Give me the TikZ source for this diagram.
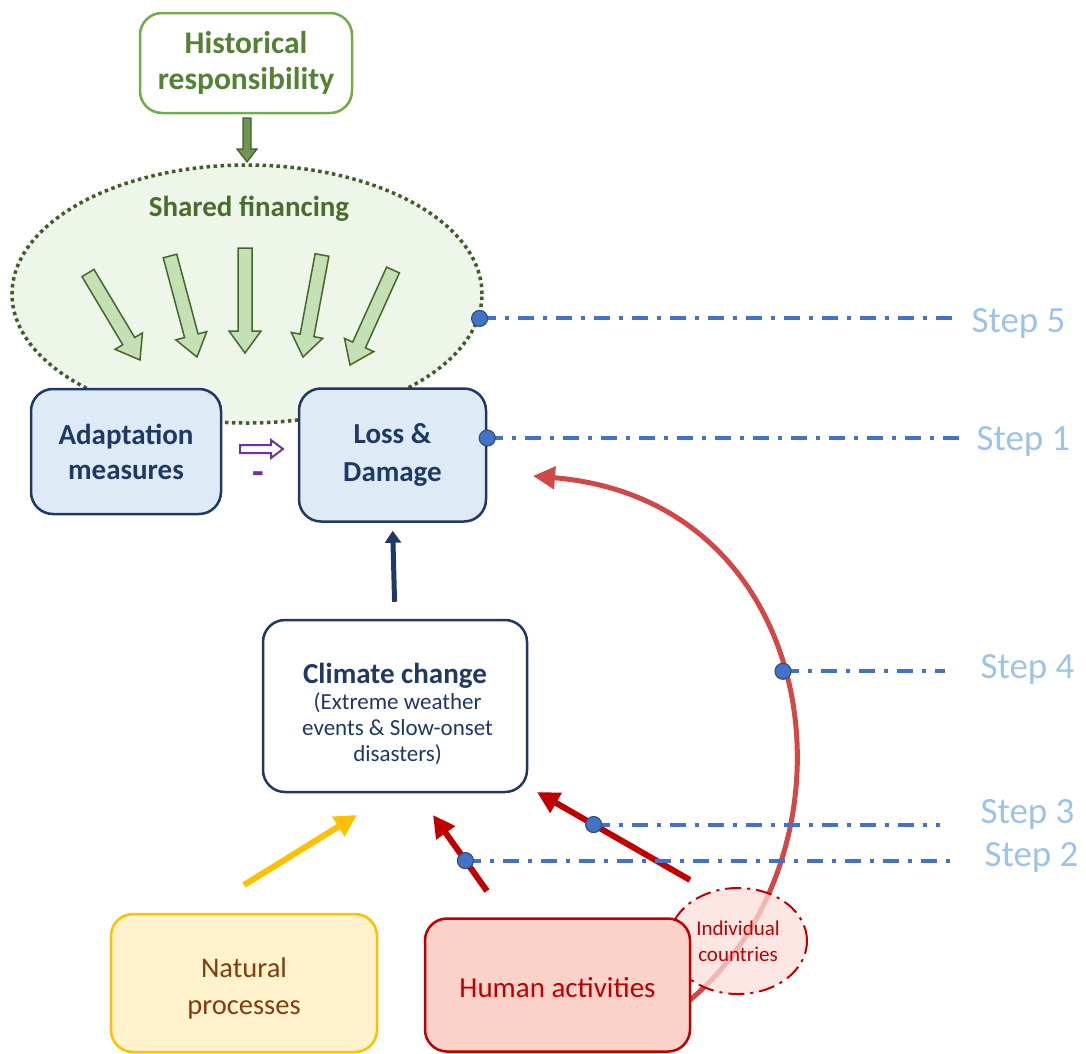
\documentclass[tikz,border=0pt]{standalone}
\usepackage{fontspec}
\setmainfont{Carlito}
\usetikzlibrary{arrows.meta, positioning, calc, shapes.geometric}
\definecolor{navy}{RGB}{31,56,100}
\definecolor{boxblue}{RGB}{222,235,247}
\definecolor{leafgreen}{RGB}{112,173,71}
\definecolor{darkgreen}{RGB}{84,130,53}
\definecolor{forest}{RGB}{60,95,40}
\definecolor{palegreen}{RGB}{238,245,233}
\definecolor{lightgreen}{RGB}{197,224,180}
\definecolor{stepblue}{RGB}{68,114,196}
\definecolor{steptext}{RGB}{157,195,230}
\definecolor{darkred}{RGB}{192,0,0}
\definecolor{arcred}{RGB}{210,72,70}
\definecolor{amber}{RGB}{255,192,0}
\definecolor{paleamber}{RGB}{255,242,204}
\definecolor{brown}{RGB}{132,60,12}
\definecolor{palered}{RGB}{251,210,202}
\definecolor{pink}{RGB}{250,222,218}
\definecolor{purple}{RGB}{112,48,160}

% block arrow: style, start, end, shaft half width, wing half width, head length
\newcommand{\fatarrow}[6]{%
  \coordinate (fa-h) at ($(#3)!#6!(#2)$);
  \draw[#1] ($(#2)!#4!90:(#3)$) -- ($(fa-h)!#4!-90:(#2)$) -- ($(fa-h)!#5!-90:(#2)$)
    -- (#3) -- ($(fa-h)!#5!90:(#2)$) -- ($(fa-h)!#4!90:(#2)$) -- ($(#2)!#4!-90:(#3)$) -- cycle;}

\begin{document}
\begin{tikzpicture}[x=1pt, y=-1pt,
  box/.style={draw, rounded corners=22pt, line width=2.5pt, align=center, inner sep=0pt},
  bluebox/.style={box, draw=navy, fill=boxblue, text=navy, font=\fontsize{29}{35}\selectfont\bfseries},
  finarrow/.style={fill=lightgreen, draw=darkgreen!80!black, line width=1.5pt, line join=miter},
  redarrow/.style={darkred, line width=6pt, -{Triangle[length=22pt, width=22pt]}},
  stepline/.style={stepblue, line width=4pt, dash pattern=on 16pt off 9pt on 4pt off 9pt},
  stepdot/.style={fill=stepblue, draw=stepblue!70!black, line width=1.2pt},
  steplabel/.style={anchor=west, text=steptext, font=\fontsize{37}{40}\selectfont},
]
\useasboundingbox (0,0) rectangle (1086,1053);

% shared financing
\node[ellipse, draw=forest, fill=palegreen, line width=3.5pt, dash pattern=on 3.5pt off 3.5pt,
  minimum width=470pt, minimum height=258pt, inner sep=0pt] (fin) at (247,294) {};
\node[text=darkgreen!85!black, font=\fontsize{29}{30}\selectfont\bfseries] (finlbl) at (249,209) {Shared financing};
\foreach \sx/\sy/\ex/\ey in {88/273/140/360, 170/256/197/357, 245/248/245/353, 322/255/303/357, 393/270/350/365}{
  \fatarrow{finarrow}{\sx,\sy}{\ex,\ey}{7pt}{16pt}{22pt}
}

% historical responsibility
\node[box, draw=leafgreen, fill=white, text=darkgreen, minimum width=212pt, minimum height=100pt,
  font=\fontsize{31.5}{36}\selectfont\bfseries] (hist) at (246,63) {Historical\\responsibility};
\coordinate (hista) at (247,118);
\coordinate (histb) at (247,162);
\fatarrow{fill=darkgreen!85!white, draw=forest, line width=1.2pt}{hista}{histb}{4pt}{10pt}{13pt}

% main boxes
\node[bluebox, minimum width=190pt, minimum height=125pt] (adapt) at (126,451.5) {Adaptation\\measures};
\node[bluebox, minimum width=187pt, minimum height=133pt, font=\fontsize{29}{38}\selectfont\bfseries] (loss) at (392.5,455) {Loss \&\\Damage};
\coordinate (pura) at (240,449);
\coordinate (purb) at (283,449);
\fatarrow{draw=purple, fill=white, line width=2pt, line join=miter}{pura}{purb}{4pt}{9pt}{12pt}
\node[text=purple, font=\fontsize{38}{38}\selectfont\bfseries] (minus) at (258,478) {-};

\node[box, draw=navy, fill=white, text=navy, minimum width=264pt, minimum height=172pt,
  font=\fontsize{23}{26}\selectfont] (clim) at (395,706)
  {\rule{0pt}{36pt}{\fontsize{29}{30}\selectfont\bfseries Climate change}\\ \ (Extreme weather\\ \ events \& Slow-onset\\ \ disasters)};
\draw[navy, line width=5pt, -{Triangle[length=12pt, width=16pt]}, shorten <=17pt, shorten >=8pt] (clim.north) -- (loss.south);

\node[box, draw=amber, fill=paleamber, text=brown, minimum width=266pt, minimum height=138pt,
  font=\fontsize{28.5}{37}\selectfont] (nat) at (244,983) {\rule{0pt}{30pt}Natural\\processes};

% loss and damage arc
\coordinate (arcs) at (690,1000);
\draw[arcred, line width=5pt, -{Triangle[length=22pt, width=22pt]}]
  (arcs) .. controls (868,850) and (826,500) .. (533,476) coordinate[pos=0.53] (d4);

\node[ellipse, draw=darkred, fill=pink, fill opacity=0.75, text opacity=1, line width=2pt,
  dash pattern=on 16pt off 6pt on 3pt off 6pt, minimum width=138pt, minimum height=106pt,
  text=darkred, align=center, font=\fontsize{21}{26}\selectfont] (indiv) at (738,941) {Individual\\countries};
\node[box, draw=darkred, fill=palered, text=darkred, minimum width=265pt, minimum height=133pt,
  font=\fontsize{29}{32}\selectfont] (hum) at (557.5,985) {\rule{0pt}{26pt}Human activities};

% causes
\coordinate (nata) at (244,885);
\coordinate (natb) at (357,815);
\draw[amber, line width=6pt, -{Triangle[length=22pt, width=22pt]}] (nata) -- (natb);
\coordinate (huma) at (487,891);
\coordinate (humb) at (433,815);
\draw[redarrow] (huma) -- (humb) coordinate[pos=0.4] (d2);
\coordinate (inda) at (690,880);
\coordinate (indb) at (537,792);
\draw[redarrow] (inda) -- (indb) coordinate[pos=0.63] (d3);

% steps
\coordinate (d5) at (fin.-6);
\coordinate (d1) at ([yshift=17pt]loss.east);
\node[steplabel] (s5) at (968,323) {Step 5};
\node[steplabel] (s1) at (973,441) {Step 1};
\node[steplabel] (s4) at (977,669) {Step 4};
\node[steplabel] (s3) at (977,814) {Step 3};
\node[steplabel] (s2) at (981,857) {Step 2};
\draw[stepline, shorten >=13pt] (d5) -- (d5 -| s5.west);
\draw[stepline, shorten >=13pt] (d1) -- (d1 -| s1.west);
\draw[stepline, shorten >=32pt] (d4) -- (d4 -| s4.west);
\draw[stepline, shorten >=37pt] (d3) -- (d3 -| s3.west);
\draw[stepline, shorten >=31pt] (d2) -- (d2 -| s2.west);
\foreach \d in {d1,d2,d3,d4,d5}
  \draw[stepdot] (\d) circle (8pt);
\end{tikzpicture}
\end{document}
